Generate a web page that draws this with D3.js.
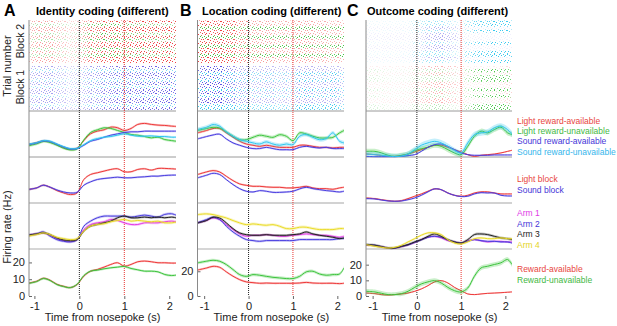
<!DOCTYPE html>
<html><head><meta charset="utf-8">
<script src="https://cdn.jsdelivr.net/npm/d3@7"></script>
<style>
body{margin:0;background:#fff}
svg{display:block}
text{font-family:"Liberation Sans",Arial,Helvetica,sans-serif}
</style></head>
<body><svg id="c" width="617" height="326"></svg>
<script>
// ---------------- DATA ----------------
const times = [-1.15,-0.95,-0.8,-0.65,-0.5,-0.35,-0.2,-0.05,0.1,0.25,0.4,0.55,0.7,0.85,1.0,1.15,1.3,1.45,1.6,1.75,1.9,2.05,2.15];
const xTicks = [-1,0,1,2];
const panelLetters = ["A","B","C"];
const panelTitles = ["Identity coding (different)","Location coding (different)","Outcome coding (different)"];

// Panel A (Hz)
const A_identity = [
  [7.2,8.6,9.6,9,7.4,5.6,4.6,5.2,9.8,13.8,15.4,16.2,17.8,17.4,15.8,17,19.4,20,19.4,19,18.8,18.4,18.2],
  [6.6,7.8,9.2,8.6,7,5.2,4.2,4.8,10.2,14.6,16.2,17.4,17,15.8,14.6,13.4,13,12.2,11.4,11.8,10.4,9.8,9.4],
  [7.4,8.4,9.6,9.2,7.6,6,4.8,5,7,9.4,10.4,11.8,13,13.8,14.6,15,15,15.4,15.4,15.4,15.4,15.4,15.4],
  [7.6,8.6,9.8,9.4,7.8,6.2,5,5.2,7.4,9.8,11,11.8,12.2,13,13.8,13,12.4,12.4,12.6,12.2,12.2,11.8,11.8]];
const A_block = [
  [8,9,10.6,9.4,7.4,6,5,6,14,17,18,19,20,20.4,18.6,18.6,20,20.4,19.6,20.6,20.6,20.4,20.2],
  [8,9,10.6,9.4,7.8,6.6,6,6.4,10.6,12.6,14,14.6,15,15.4,15,15,15.4,15.6,16,16,16.4,16.6,16.6]];
const A_arms = [
  [8.2,9,9.6,8.2,6.2,5,4.6,5.6,11.6,14.6,15.6,16.2,17.6,17,15.6,14.6,14.6,15.6,15.6,15.6,16.2,16.6,16.2],
  [8.2,9,10.2,7.6,5.6,4.6,4.2,5.6,13.6,16.6,18.6,19.6,19.6,19.6,19.6,19,19.6,20.2,19.6,19,20.6,21,20.2],
  [8.2,9,9.6,8.6,6.6,5.4,5,5.6,10.6,13.6,14.6,15.6,16.6,18.6,19.6,18.6,18.6,19,18.6,19,18.6,19,18.6],
  [7.6,8.6,9.6,8.6,7,6.2,5.6,6.2,10.6,13.6,14.6,15,16.2,17,17.6,16.6,17,16.6,16.2,16.6,15.6,15.6,16]];
const A_reward = [
  [7.6,8.8,10.6,9.4,7,5.8,5,6.8,11.8,14.8,15.8,17.2,18.8,19.8,17.8,18.8,20.4,20.8,20.4,19.8,19.8,19.6,19.6],
  [7.4,8.6,10.4,9.2,6.8,5.6,5,7,12.2,14.8,15.4,16.2,16.8,17.2,17.6,16.4,15.6,14.8,14.8,14.4,12.8,12.2,12.4]];

// Panel B (Hz)
const B_identity = [
  [19.5,21.4,23,23,19.5,16,12.7,10.5,9.5,8.6,9.5,8.6,7.8,7.8,7.8,9.5,9.5,8.6,7.8,7.8,7.3,7.8,7.8],
  [21.4,23,24,23.5,20.3,16.8,14,14,15.9,17.6,16.8,15.9,18,16.8,13.2,19.5,18.6,16.8,15.4,15.4,15.9,19.5,21.4],
  [14.6,16.5,17.8,18.4,14.6,11.4,9.5,7.8,6.8,6.8,7.8,6.8,5.9,5.9,5.9,7.8,8.6,7.8,7.3,7.8,6.8,6.8,6.8],
  [22.2,24,26.2,24.9,20.3,16.8,14,12.7,11.4,10.5,12.2,10.5,9.5,10.5,10,16.8,18.1,15.9,14,14.9,19.5,12.7,11.4]];
const B_block = [
  [23,25.1,26.2,25.1,21.6,18.1,15.4,14.3,13.5,13.5,13,12.7,12.7,12.2,12.2,12.7,13.5,12.2,11.6,11.6,11.1,12.2,12.7],
  [20.3,22.4,24,23,18.9,14.9,11.6,9.5,8.9,10,9.5,8.6,8.6,8.9,9.5,11.4,12.7,11.6,10.8,10,9.5,8.9,9.5]];
const B_arms = [
  [21.1,23,25.1,23.8,19.7,15.7,12.2,10.3,11.1,11.1,11.6,11.1,10.3,10.3,11.1,11.6,12.2,11.6,11.1,11.1,10.3,9.5,10.3],
  [21.1,23.8,25.7,23.8,18.4,13.8,10.3,7.6,6.8,6.2,6.8,6.8,6.8,6.8,6.8,7.6,7.6,7.6,7.6,7.6,7.6,8.4,8.4],
  [21.1,23,25.7,25.1,21.1,16.5,13,11.6,11.1,11.1,11.6,11.1,11.1,11.1,11.6,12.2,13.8,12.2,11.1,10.3,9.5,8.4,8.9],
  [27.8,28.4,27.8,26.5,25.1,23,21.1,19.7,20.3,19.7,19.2,19.7,18.4,16.5,16.5,17.6,17.6,16.5,15.7,15.7,15.7,16.5,16.5]];
const B_reward = [
  [21,22.6,24,23.2,19.5,16,13.2,11.4,10.8,10.3,10.5,10.3,10.3,10.3,10.3,10.5,11,10.5,10.3,10.3,10.3,10,10.3],
  [26.8,28.1,28.9,28.1,25.4,21.4,17.3,15.9,17.3,16.8,15.9,15.1,14.6,14.1,14.1,15.9,19.5,20,17.8,16.8,17.3,17.8,22.7]];

// Panel C (Hz)
const C_identity = [
  [1.9,1.5,0.9,0.4,0.4,0.9,1.9,3.2,4.7,6.2,7.5,7.5,6.2,4.7,3.2,1.5,0.4,1.1,1.5,1.9,2.6,3.6,4.3],
  [3.6,3.6,2.6,1.1,0.4,1.1,1.9,4.1,5.3,6.2,7.5,6.8,4.7,2.6,1.5,6.8,13.2,16.5,15.4,17.5,19.0,15.4,14.3],
  [0.4,0.2,0.2,0.2,0.2,0.4,0.9,1.5,3.6,6.2,7.9,8.3,6.8,4.7,2.6,1.5,1.1,1.1,1.1,1.3,1.3,1.3,1.3],
  [1.9,1.5,1.1,0.6,0.2,0.6,1.9,4.7,7.5,9.0,10.0,9.0,6.8,4.1,2.6,9.0,14.3,15.4,16.0,18.6,19.7,17.5,14.7]];
const C_block = [
  [3.2,2.8,2.1,1.5,1.1,1.5,2.8,4.3,5.8,7.5,9.0,8.5,6.4,4.9,4.3,4.9,6.4,7.1,7.1,6.4,5.8,5.8,5.8],
  [2.8,2.6,1.9,1.3,1.1,1.3,2.1,3.2,4.9,7.1,9.0,8.5,6.4,4.9,4.1,4.3,5.8,6.6,6.4,6.4,4.9,4.5,4.5]];
const C_arms = [
  [2.4,2.1,1.5,0.6,0.6,1.5,2.6,4.1,6.0,7.5,8.1,7.1,5.3,4.5,3.8,5.3,6.0,5.3,4.5,4.9,4.9,4.5,4.5],
  [2.8,2.4,1.5,0.6,0.6,1.7,2.6,4.3,5.8,7.5,8.1,7.5,5.8,4.5,3.8,4.9,6.0,5.3,4.9,4.9,4.5,4.5,3.8],
  [2.8,2.4,1.5,0.6,0.6,1.7,2.8,4.5,6.0,8.1,9.6,8.1,6.0,4.5,3.8,6.0,9.2,9.6,9.2,8.1,7.1,6.6,6.0],
  [2.8,1.7,1.1,0.6,1.1,2.4,4.5,6.6,8.8,10.3,10.3,9.2,6.0,3.8,3.2,4.5,6.6,7.1,6.6,6.6,7.1,6.6,6.6]];
const C_reward = [
  [1.9,1.5,0.9,0.6,0.9,1.3,1.9,3.0,4.5,6.6,9.0,9.8,8.3,5.5,3.4,1.3,0.9,1.3,1.7,1.9,2.1,2.4,2.6],
  [3.0,2.6,1.7,0.9,0.9,1.5,3.0,5.5,7.7,9.0,9.8,8.3,5.5,3.4,2.6,5.1,12.6,17.9,19.0,20.1,21.2,23.3,20.1]];

// SEM half-widths (Hz) per series
const A_sem = [[0.7,0.8,0.6,0.7],[0.6,0.6],[0.8,0.8,0.7,0.8],[0.6,0.7]];
const B_sem = [[0.9,1.4,0.8,1.6],[0.8,0.8],[1.0,1.0,0.9,1.2],[0.9,1.3]];
const C_sem = [[0.4,1.6,0.4,1.8],[0.5,0.5],[0.7,0.6,0.9,0.7],[0.4,1.5]];

// Raster trial rows: indices into the identity series (0 light-avail,1 light-unavail,2 sound-avail,3 sound-unavail)
const A_rasterTop = [0,1,0,0,1,0,1,0,0,1,0,1,0,0];
const A_rasterBottom = [2,3,2,2,3,2,3,2,2,3,2,2,3,2];
const B_rasterTop = [0,0,1,0,0,1,0,0,1,0,0,1,0,0];
const B_rasterBottom = [2,2,3,2,3,2,2,3,2,3,2,2,3,3];
const C_rasterTop = [3,3,2,3,2,2,2,3,2,2,3,3,2,3];
const C_rasterBottom = [0,1,0,1,1,0,0,1,0,1,0,0,1,1];

const yTicksA = [0,10,20], yTicksB = [0,20], yTicksC = [0,10,20];

const legendIdentity = ["Light reward-available","Light reward-unavailable","Sound reward-available","Sound reward-unavailable"];
const legendBlock = ["Light block","Sound block"];
const legendArms = ["Arm 1","Arm 2","Arm 3","Arm 4"];
const legendReward = ["Reward-available","Reward-unavailable"];

// ---------------- STYLE / LAYOUT ----------------
const col = {red:"#ee3a3a", green:"#3cc43c", blue:"#4a3ee0", cyan:"#2ec6ef", magenta:"#e33be6", black:"#222222", yellow:"#eadb26"};
const txtCol = {red:"#e8453e", green:"#43b843", blue:"#4636d8", cyan:"#35b6ec", magenta:"#e03ae6", black:"#222", yellow:"#e4d41c"};
const bandColors = [["red","green","blue","cyan"],["red","blue"],["magenta","blue","black","yellow"],["red","green"]];
const bandBottoms = [157,203,249,296];
const bandH = 47;
const rasterBlocks = [[20.5,63],[66,110]];
const panels = [
  {letter:panelLetters[0], title:panelTitles[0], range:[29,176], domain:[-1.12,2.15], yMax:28, yTicks:yTicksA,
   bands:[A_identity,A_block,A_arms,A_reward], sem:A_sem, raster:[A_rasterTop,A_rasterBottom], letterX:4, titleX:36},
  {letter:panelLetters[1], title:panelTitles[1], range:[197.5,344], domain:[-1.15,2.15], yMax:38, yTicks:yTicksB,
   bands:[B_identity,B_block,B_arms,B_reward], sem:B_sem, raster:[B_rasterTop,B_rasterBottom], letterX:180, titleX:202},
  {letter:panelLetters[2], title:panelTitles[2], range:[366,512], domain:[-1.15,2.15], yMax:30, yTicks:yTicksC,
   bands:[C_identity,C_block,C_arms,C_reward], sem:C_sem, raster:[C_rasterTop,C_rasterBottom], letterX:347, titleX:367}
];

const svg = d3.select("#c");
const defs = svg.append("defs");
// speckle texture used to draw the spike rasters (style only)
const dotCells = [[0,0],[5,0],[9,0],[2,1],[7,1],[11,1],[4,2],[10,2],[0,3],[6,3],[8,3],[12,3],
                  [2,4],[5,5],[9,5],[1,6],[7,6],[11,6],[3,7],[10,7],[0,8],[6,8]];
Object.entries(col).forEach(([k,c]) => {
  const p = defs.append("pattern").attr("id","pat-"+k).attr("patternUnits","userSpaceOnUse")
    .attr("width",13).attr("height",9);
  p.selectAll("rect").data(dotCells).join("rect")
    .attr("x",d=>d[0]).attr("y",d=>d[1]).attr("width",1).attr("height",1).attr("fill",c);
});

panels.forEach((P, pi) => {
  const x = d3.scaleLinear().domain(P.domain).range(P.range);
  const g = svg.append("g");
  const clipId = "clip"+pi;
  defs.append("clipPath").attr("id",clipId).append("rect")
    .attr("x",P.range[0]).attr("y",18).attr("width",P.range[1]-P.range[0]).attr("height",280);

  svg.append("text").attr("x",P.letterX).attr("y",16).attr("font-size",16).attr("font-weight","bold").text(P.letter);
  svg.append("text").attr("x",P.titleX).attr("y",15).attr("font-size",11).attr("font-weight","bold").text(P.title);

  // raster
  const rg = g.append("g").attr("clip-path",`url(#${clipId})`);
  const identity = P.bands[0];
  const idColors = bandColors[0];
  P.raster.forEach((rows, bi) => {
    const [y0,y1] = rasterBlocks[bi];
    const rh = (y1-y0)/rows.length;
    rows.forEach((ci, ri) => {
      const rates = identity[ci];
      times.forEach((t, j) => {
        const l = j===0 ? P.domain[0]-0.1 : (times[j-1]+t)/2;
        const r = j===times.length-1 ? P.domain[1]+0.1 : (t+times[j+1])/2;
        rg.append("rect").attr("x",x(l)).attr("width",x(r)-x(l))
          .attr("y",y0+ri*rh).attr("height",rh+0.05)
          .attr("fill",`url(#pat-${idColors[ci]})`)
          .attr("opacity",Math.max(0.08,Math.min(0.95,rates[j]/19)));
      });
    });
  });

  // separators
  g.append("line").attr("x1",P.range[0]).attr("x2",P.range[1]).attr("y1",111).attr("y2",111).attr("stroke","#9a9a9a").attr("stroke-width",1);
  g.append("line").attr("x1",P.range[0]).attr("x2",P.range[1]).attr("y1",157).attr("y2",157).attr("stroke","#9a9a9a").attr("stroke-width",1);
  g.append("line").attr("x1",P.range[0]).attr("x2",P.range[1]).attr("y1",203).attr("y2",203).attr("stroke","#a5a5a5").attr("stroke-width",1);
  g.append("line").attr("x1",P.range[0]).attr("x2",P.range[1]).attr("y1",249).attr("y2",249).attr("stroke","#d6d6d6").attr("stroke-width",2.2);

  // event markers
  g.append("line").attr("x1",x(0)).attr("x2",x(0)).attr("y1",20).attr("y2",296)
    .attr("stroke","#222").attr("stroke-width",1).attr("stroke-dasharray","1,1");
  g.append("line").attr("x1",x(1)).attr("x2",x(1)).attr("y1",20).attr("y2",296)
    .attr("stroke","#e8322f").attr("stroke-width",1).attr("stroke-dasharray","1,1");

  // PSTH bands
  const pg = g.append("g").attr("clip-path",`url(#${clipId})`);
  P.bands.forEach((series, bi) => {
    const bottom = bandBottoms[bi];
    const y = d3.scaleLinear().domain([0,P.yMax]).range([bottom, bottom-bandH]);
    series.forEach((vals, si) => {
      const c = col[bandColors[bi][si]];
      const s = P.sem[bi][si];
      const pts = times.map((t,k)=>({t, v:vals[k]}));
      const area = d3.area().curve(d3.curveCatmullRom.alpha(0.5))
        .x(d=>x(d.t)).y0(d=>y(Math.max(0,d.v-s))).y1(d=>y(d.v+s));
      const line = d3.line().curve(d3.curveCatmullRom.alpha(0.5)).x(d=>x(d.t)).y(d=>y(d.v));
      pg.append("path").attr("d",area(pts)).attr("fill",c).attr("fill-opacity",0.28).attr("stroke","none");
      pg.append("path").attr("d",line(pts)).attr("fill","none").attr("stroke",c).attr("stroke-width",1);
    });
    if (bi === 3) {
      const ax = g.append("g").attr("transform",`translate(${P.range[0]},0)`)
        .call(d3.axisLeft(y).tickValues(P.yTicks).tickSize(-3).tickPadding(4).tickFormat(d=>String(d)));
      ax.select(".domain").remove();
      ax.selectAll("line").attr("stroke","#666");
      ax.selectAll("text").attr("font-size",11).attr("fill","#222").attr("font-family","Liberation Sans, Arial, sans-serif");
    }
  });

  g.append("line").attr("x1",P.range[0]).attr("x2",P.range[0]).attr("y1",20).attr("y2",296).attr("stroke","#8a8a8a").attr("stroke-width",1);

  const bx = g.append("g").attr("transform","translate(0,296)")
    .call(d3.axisBottom(x).tickValues(xTicks).tickSize(3).tickPadding(3).tickFormat(d=>String(d)));
  bx.select(".domain").remove();
  bx.selectAll("line").attr("stroke","#666");
  bx.selectAll("text").attr("font-size",11).attr("fill","#222").attr("font-family","Liberation Sans, Arial, sans-serif");

  svg.append("text").attr("x",(x(-1.12)+x(2.15))/2).attr("y",321).attr("text-anchor","middle")
    .attr("font-size",11).attr("fill","#222").text("Time from nosepoke (s)");
});

svg.append("text").attr("transform","translate(11,66) rotate(-90)").attr("text-anchor","middle").attr("font-size",11).attr("fill","#222").text("Trial number");
svg.append("text").attr("transform","translate(24,41) rotate(-90)").attr("text-anchor","middle").attr("font-size",10.5).attr("fill","#222").text("Block 2");
svg.append("text").attr("transform","translate(24,87) rotate(-90)").attr("text-anchor","middle").attr("font-size",10.5).attr("fill","#222").text("Block 1");
svg.append("text").attr("transform","translate(11,227) rotate(-90)").attr("text-anchor","middle").attr("font-size",11).attr("fill","#222").text("Firing rate (Hz)");

const legendGroups = [
  {labels:legendIdentity, colors:bandColors[0], y:[120.7,131.1,141.5,151.9]},
  {labels:legendBlock, colors:bandColors[1], y:[179,189.6]},
  {labels:legendArms, colors:bandColors[2], y:[213.3,223.8,234.3,244.8]},
  {labels:legendReward, colors:bandColors[3], y:[269.3,279.8]}
];
legendGroups.forEach(L => {
  L.labels.forEach((lab,i) => {
    svg.append("text").attr("x",517).attr("y",L.y[i]).attr("dy","0.35em")
      .attr("font-size",8.5).attr("fill",txtCol[L.colors[i]]).text(lab);
  });
});
</script></body></html>
